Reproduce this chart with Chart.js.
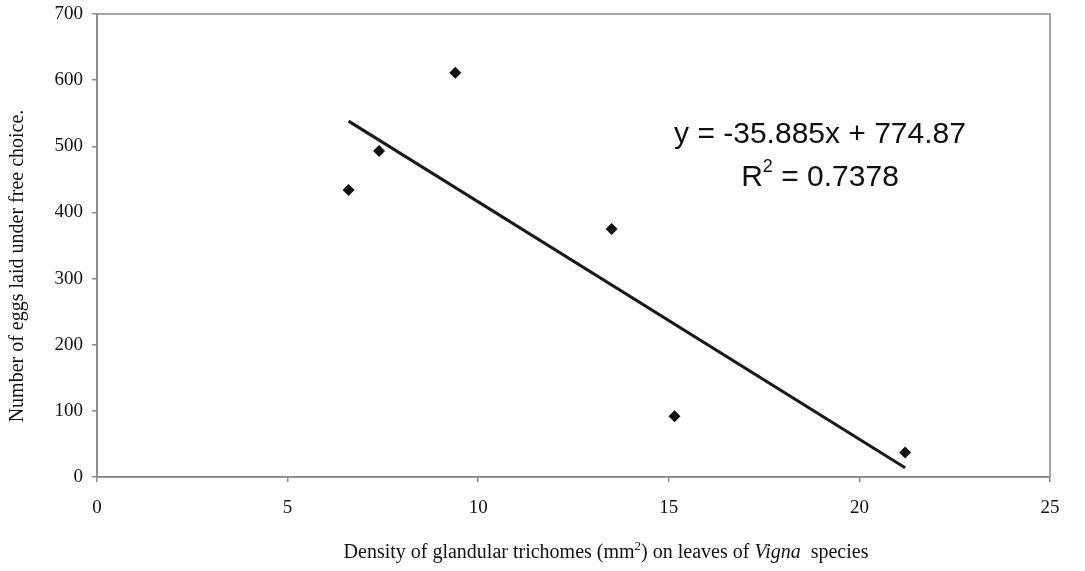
<!DOCTYPE html>
<html>
<head>
<meta charset="utf-8">
<script src="https://cdn.jsdelivr.net/npm/chart.js@4"></script>
<style>
  html, body { margin: 0; padding: 0; background: #fff; }
  #wrap { width: 1085px; height: 571px; }
</style>
</head>
<body>
<div id="wrap"><canvas id="eggChart" width="1085" height="571"></canvas></div>
<script>
// trichome density vs eggs laid
const density = [6.6, 7.4, 9.4, 13.5, 15.15, 21.2];
const eggs = [434, 493, 611, 375, 92, 37];
const xTicks = [0, 5, 10, 15, 20, 25];
const yTicks = [0, 100, 200, 300, 400, 500, 600, 700];
// linear trendline as printed on the chart
const slope = -35.885;
const intercept = 774.87;
const r2 = "0.7378";

const points = density.map((x, i) => ({ x: x, y: eggs[i] }));
const xMin = Math.min(...density);
const xMax = Math.max(...density);
const trend = [xMin, xMax].map((x) => ({ x: x, y: slope * x + intercept }));

const serif = "'Liberation Serif', 'Times New Roman', serif";
const sans = "'Liberation Sans', Arial, sans-serif";

// frame round the plot area, axis titles and equation text
const decor = {
  id: "decor",
  afterDraw(chart) {
    const c = chart.ctx;
    const a = chart.chartArea;
    c.save();
    c.strokeStyle = "#8a8a8a";
    c.lineWidth = 1.5;
    c.strokeRect(a.left, a.top, a.right - a.left, a.bottom - a.top);

    // y title
    c.fillStyle = "#111";
    c.font = "20px " + serif;
    c.textAlign = "center";
    c.textBaseline = "middle";
    c.translate(18, 266);
    c.rotate(-Math.PI / 2);
    c.fillText("Number of eggs laid under free choice.", 0, 0);
    c.restore();

    // x title with superscript and italic part
    c.save();
    c.fillStyle = "#111";
    c.textBaseline = "alphabetic";
    const parts = [
      { t: "Density of glandular trichomes (mm", f: "20px " + serif, dy: 0 },
      { t: "2", f: "13px " + serif, dy: -8 },
      { t: ") on leaves of ", f: "20px " + serif, dy: 0 },
      { t: "Vigna", f: "italic 20px " + serif, dy: 0 },
      { t: "  species", f: "20px " + serif, dy: 0 },
    ];
    let total = 0;
    parts.forEach((p) => { c.font = p.f; p.w = c.measureText(p.t).width; total += p.w; });
    let x = 606 - total / 2;
    parts.forEach((p) => {
      c.font = p.f;
      c.textAlign = "left";
      c.fillText(p.t, x, 558 + p.dy);
      x += p.w;
    });

    // equation
    c.fillStyle = "#111";
    c.font = "30px " + sans;
    c.textAlign = "center";
    c.fillText("y = " + slope + "x + " + intercept, 820, 143);
    const eqParts = [
      { t: "R", f: "30px " + sans, dy: 0 },
      { t: "2", f: "18px " + sans, dy: -14 },
      { t: " = " + r2, f: "30px " + sans, dy: 0 },
    ];
    let tw = 0;
    eqParts.forEach((p) => { c.font = p.f; p.w = c.measureText(p.t).width; tw += p.w; });
    let ex = 820 - tw / 2;
    eqParts.forEach((p) => {
      c.font = p.f;
      c.textAlign = "left";
      c.fillText(p.t, ex, 186 + p.dy);
      ex += p.w;
    });
    c.restore();
  },
};

const ctx = document.getElementById("eggChart");
new Chart(ctx, {
  type: "scatter",
  data: {
    datasets: [
      {
        label: "Eggs",
        data: points,
        pointStyle: "rectRot",
        pointRadius: 6,
        pointHoverRadius: 6,
        backgroundColor: "#111",
        borderColor: "#111",
        borderWidth: 0,
      },
      {
        type: "line",
        label: "Linear",
        data: trend,
        borderColor: "#1a1a1a",
        borderWidth: 3,
        pointRadius: 0,
        fill: false,
      },
    ],
  },
  options: {
    responsive: false,
    animation: false,
    layout: { padding: { left: 0, top: 14, right: 35, bottom: 0 } },
    plugins: { legend: { display: false }, tooltip: { enabled: false } },
    scales: {
      x: {
        type: "linear",
        min: 0,
        max: 25,
        afterBuildTicks: (s) => { s.ticks = xTicks.map((v) => ({ value: v })); },
        afterFit: (s) => { s.height = 94; s.paddingLeft = 0; s.paddingRight = 0; },
        grid: { drawOnChartArea: false, tickLength: 5, color: "#8a8a8a", lineWidth: 1.5 },
        border: { color: "#8a8a8a", width: 1.5 },
        ticks: { color: "#111", padding: 15, font: { family: serif, size: 19 } },
      },
      y: {
        min: 0,
        max: 700,
        afterBuildTicks: (s) => { s.ticks = yTicks.map((v) => ({ value: v })); },
        afterFit: (s) => { s.width = 97; s.paddingTop = 0; s.paddingBottom = 0; },
        grid: { drawOnChartArea: false, tickLength: 5, color: "#8a8a8a", lineWidth: 1.5 },
        border: { color: "#8a8a8a", width: 1.5 },
        ticks: { color: "#111", padding: 9, font: { family: serif, size: 19 } },
      },
    },
  },
  plugins: [decor],
});
</script>
</body>
</html>
